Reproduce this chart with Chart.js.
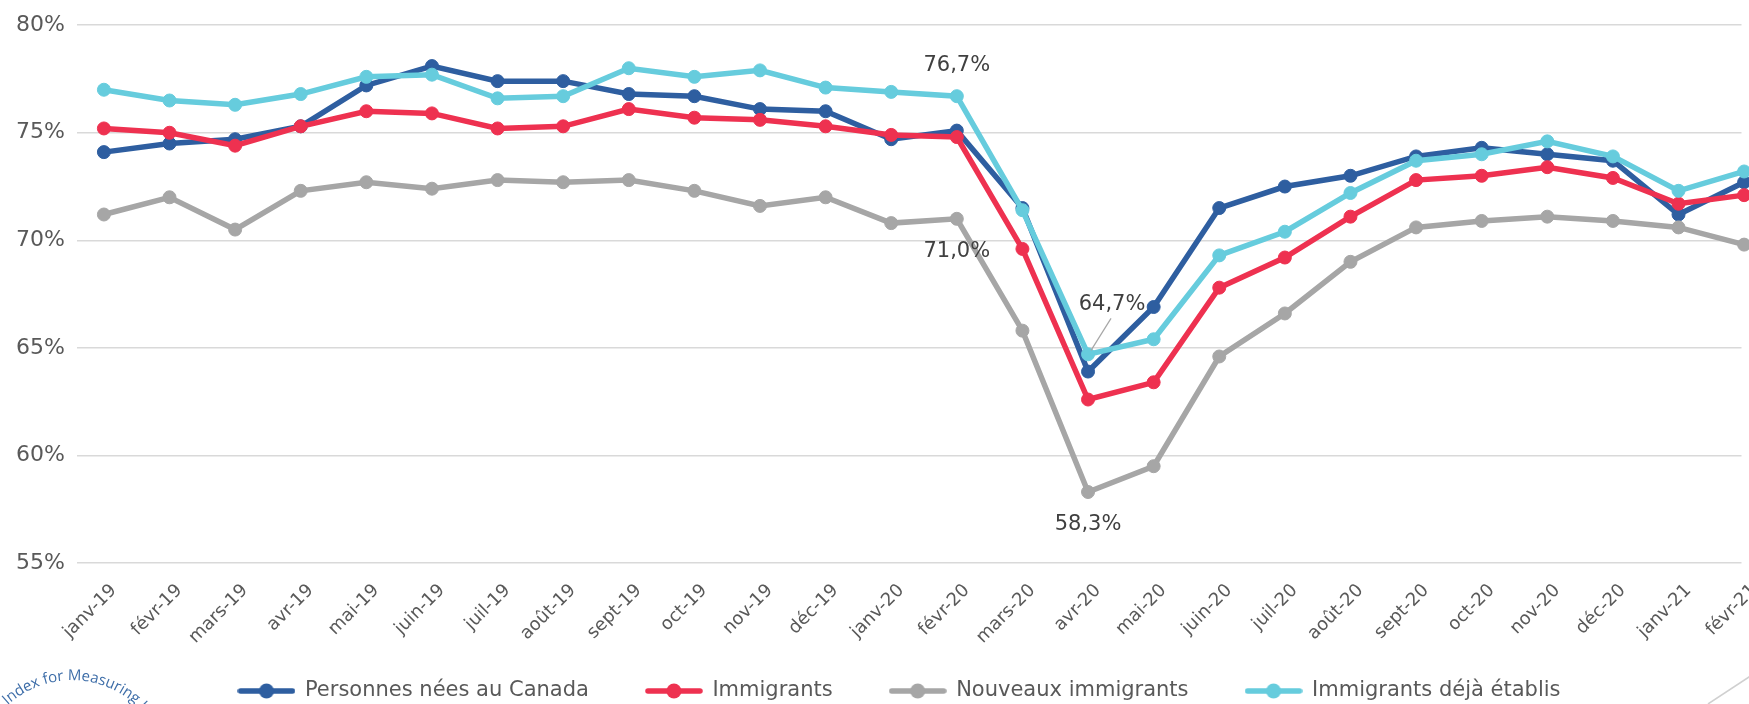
<!DOCTYPE html>
<html lang="fr">
<head>
<meta charset="utf-8">
<title>Taux d'emploi</title>
<script src="https://cdn.jsdelivr.net/npm/chart.js@4.4.1/dist/chart.umd.min.js"></script>
<style>
  html, body { margin: 0; padding: 0; background: #fff; }
  #wrap { width: 1749px; height: 704px; position: relative; }
</style>
</head>
<body>
<div id="wrap"><canvas id="chart" width="1749" height="704"></canvas></div>
<script>
// mois
const categories = [
  "janv-19", "févr-19", "mars-19", "avr-19", "mai-19", "juin-19", "juil-19",
  "août-19", "sept-19", "oct-19", "nov-19", "déc-19", "janv-20", "févr-20",
  "mars-20", "avr-20", "mai-20", "juin-20", "juil-20", "août-20", "sept-20",
  "oct-20", "nov-20", "déc-20", "janv-21", "févr-21"
];

// séries (%)
const personnesNees = [74.1, 74.5, 74.7, 75.3, 77.2, 78.1, 77.4, 77.4, 76.8, 76.7, 76.1, 76.0, 74.7,
  75.1, 71.5, 63.9, 66.9, 71.5, 72.5, 73.0, 73.9, 74.3, 74.0, 73.7, 71.2, 72.7];
const immigrants = [75.2, 75.0, 74.4, 75.3, 76.0, 75.9, 75.2, 75.3, 76.1, 75.7, 75.6, 75.3, 74.9,
  74.8, 69.6, 62.6, 63.4, 67.8, 69.2, 71.1, 72.8, 73.0, 73.4, 72.9, 71.7, 72.1];
const nouveauxImmigrants = [71.2, 72.0, 70.5, 72.3, 72.7, 72.4, 72.8, 72.7, 72.8, 72.3, 71.6, 72.0, 70.8,
  71.0, 65.8, 58.3, 59.5, 64.6, 66.6, 69.0, 70.6, 70.9, 71.1, 70.9, 70.6, 69.8];
const immigrantsEtablis = [77.0, 76.5, 76.3, 76.8, 77.6, 77.7, 76.6, 76.7, 78.0, 77.6, 77.9, 77.1, 76.9,
  76.7, 71.4, 64.7, 65.4, 69.3, 70.4, 72.2, 73.7, 74.0, 74.6, 73.9, 72.3, 73.2];

const seriesNames = ["Personnes nées au Canada", "Immigrants", "Nouveaux immigrants", "Immigrants déjà établis"];
const yTicks = [55, 60, 65, 70, 75, 80];

const colors = ["#2E5EA0", "#EE3150", "#A6A6A6", "#66CCDD"];
const FONT = "'DejaVu Sans', sans-serif";

/* ======================
   MARQUEUR LEGENDE
====================== */
function legendMarker(color) {
  const c = document.createElement("canvas");
  c.width = 58;
  c.height = 18;
  const g = c.getContext("2d");
  g.strokeStyle = color;
  g.lineWidth = 5.5;
  g.lineCap = "round";
  g.beginPath();
  g.moveTo(3, 9);
  g.lineTo(55, 9);
  g.stroke();
  g.fillStyle = color;
  g.beginPath();
  g.arc(29, 9, 7.5, 0, Math.PI * 2);
  g.fill();
  return c;
}
const markers = colors.map(legendMarker);

/* ======================
   ETIQUETTES
====================== */
// [série, index du mois, décalage x, décalage y, trait de rappel]
const callouts = [
  [3, 13, 0, -31, false],
  [2, 13, 0, 33, false],
  [3, 15, 24, -50, true],
  [2, 15, 0, 33, false]
];

const calloutPlugin = {
  id: "callouts",
  afterDatasetsDraw(chart) {
    const ctx = chart.ctx;
    const x = chart.scales.x;
    const y = chart.scales.y;
    ctx.save();
    ctx.font = "21px " + FONT;
    ctx.fillStyle = "#404040";
    ctx.textAlign = "center";
    ctx.textBaseline = "middle";
    callouts.forEach(([s, i, dx, dy, leader]) => {
      const v = chart.data.datasets[s].data[i].y;
      const px = x.getPixelForValue(i);
      const py = y.getPixelForValue(v);
      const txt = v.toFixed(1).replace(".", ",") + "%";
      ctx.fillText(txt, px + dx, py + dy);
      if (leader) {
        ctx.strokeStyle = "#A6A6A6";
        ctx.lineWidth = 1.2;
        ctx.beginPath();
        ctx.moveTo(px + dx - 1, py + dy + 14);
        ctx.lineTo(px + 3, py - 4);
        ctx.stroke();
      }
    });
    ctx.restore();
  }
};

// décor: logo en arc en bas à gauche, trait en bas à droite
const decorPlugin = {
  id: "decor",
  afterDraw(chart) {
    const ctx = chart.ctx;
    ctx.save();
    ctx.font = "15px 'Open Sans', sans-serif";
    ctx.fillStyle = "#3D6DA8";
    ctx.textAlign = "center";
    ctx.textBaseline = "middle";
    const txt = "Index for Measuring Integration";
    const cx = 72, cy = 776, r = 100;
    let a = -2.31;
    for (const ch of txt) {
      const w = ctx.measureText(ch).width;
      a += (w / 2) / r;
      ctx.save();
      ctx.translate(cx + r * Math.cos(a), cy + r * Math.sin(a));
      ctx.rotate(a + Math.PI / 2);
      ctx.fillText(ch, 0, 0);
      ctx.restore();
      a += (w / 2) / r + 0.003;
    }
    ctx.strokeStyle = "#D0D0D0";
    ctx.lineWidth = 1.5;
    ctx.beginPath();
    ctx.moveTo(1708, 704);
    ctx.lineTo(1752, 675);
    ctx.stroke();
    ctx.restore();
  }
};

// place la légende
const legendShift = {
  id: "legendShift",
  afterLayout(chart) {
    const lg = chart.legend;
    const lab = lg.options.labels;
    lg.top = 691 - lab.padding - lab.font.size / 2;
    lg.left += 25;
    lg.right += 25;
  }
};

const series = [personnesNees, immigrants, nouveauxImmigrants, immigrantsEtablis];

new Chart(document.getElementById("chart"), {
  type: "line",
  data: {
    datasets: series.map((vals, s) => ({
      label: seriesNames[s],
      data: vals.map((v, i) => ({ x: i, y: v })),
      borderColor: colors[s],
      backgroundColor: colors[s],
      pointBackgroundColor: colors[s],
      pointBorderColor: colors[s],
      borderWidth: 5.5,
      pointRadius: 6.5,
      pointBorderWidth: 1,
      tension: 0,
      clip: false,
      order: 3 - s
    }))
  },
  options: {
    responsive: false,
    animation: false,
    layout: { padding: { top: 24, right: 0, bottom: 0, left: 0 } },
    scales: {
      x: {
        type: "linear",
        min: -0.41,
        max: 24.96,
        grid: { display: false },
        border: { display: false },
        afterBuildTicks: (scale) => {
          scale.ticks = categories.map((c, i) => ({ value: i }));
        },
        afterFit: (scale) => {
          scale.height = 88;
          scale.paddingLeft = 0;
          scale.paddingRight = 0;
        },
        ticks: {
          autoSkip: false,
          minRotation: 45,
          maxRotation: 45,
          padding: 9,
          labelOffset: 10,
          color: "#595959",
          font: { family: FONT, size: 18 },
          callback: (v) => categories[v]
        }
      },
      y: {
        min: 55,
        max: 80,
        afterBuildTicks: (scale) => {
          scale.ticks = yTicks.map((v) => ({ value: v }));
        },
        afterFit: (scale) => { scale.width = 77; },
        grid: { color: "#D9D9D9", lineWidth: 1.6, drawTicks: false },
        border: { display: false },
        ticks: {
          padding: 12,
          color: "#595959",
          font: { family: FONT, size: 22 },
          callback: (v) => v + "%"
        }
      }
    },
    plugins: {
      tooltip: { enabled: false },
      legend: {
        position: "bottom",
        maxHeight: 53,
        labels: {
          usePointStyle: true,
          pointStyleWidth: 56,
          padding: 57,
          color: "#595959",
          font: { family: FONT, size: 21 },
          sort: (a, b) => a.datasetIndex - b.datasetIndex,
          generateLabels: (chart) => {
            const items = Chart.defaults.plugins.legend.labels.generateLabels(chart);
            items.forEach((it) => { it.pointStyle = markers[it.datasetIndex]; });
            return items;
          }
        }
      }
    }
  },
  plugins: [calloutPlugin, decorPlugin, legendShift]
});
</script>
</body>
</html>
